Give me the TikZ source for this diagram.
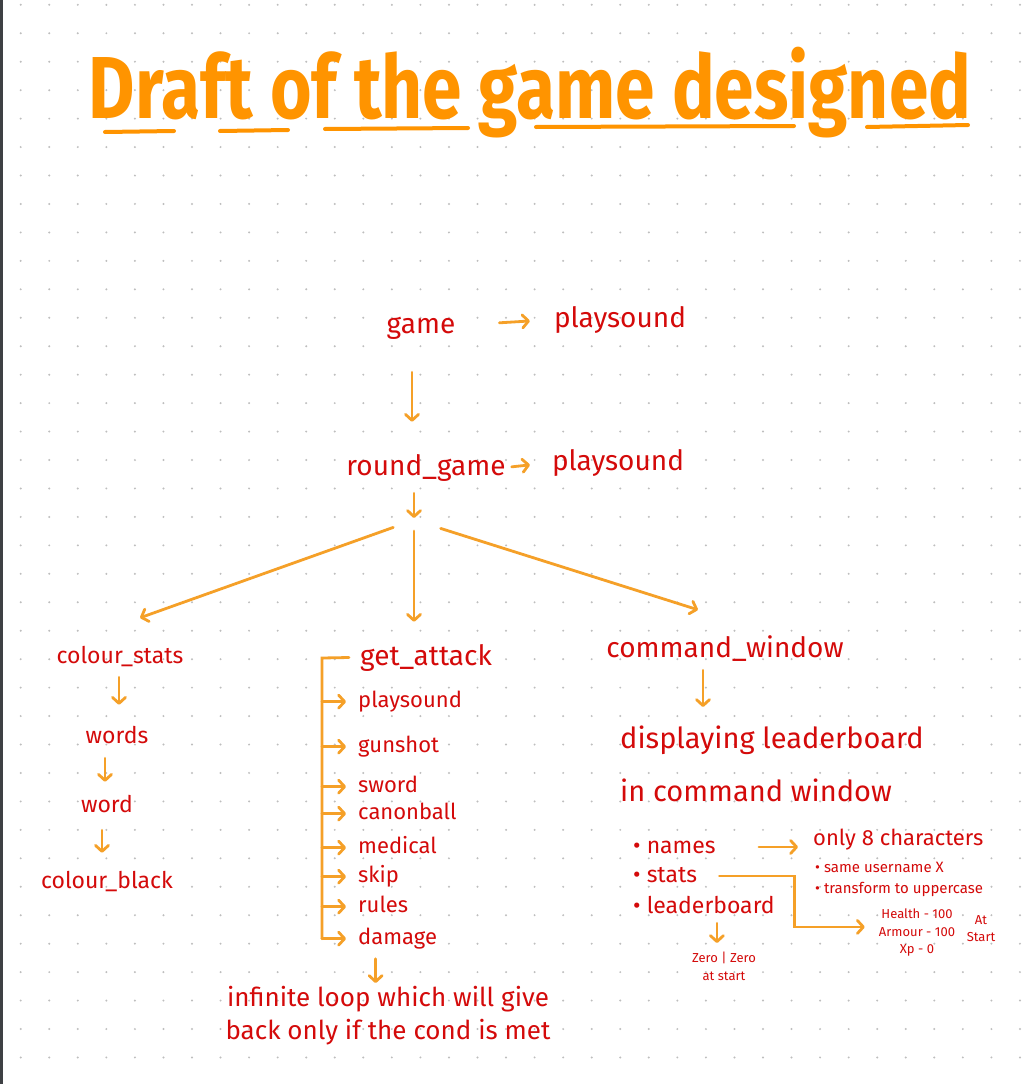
\documentclass[tikz,border=0pt]{standalone}
\usepackage{fontspec}
\setmainfont{Fira Sans}
\newfontfamily\titlefont[FakeStretch=0.81]{Fira Sans}
\usetikzlibrary{arrows.meta,positioning}

\definecolor{ink}{RGB}{212,10,10}
\definecolor{pen}{RGB}{245,160,40}
\definecolor{marker}{RGB}{255,148,0}
\definecolor{dots}{RGB}{190,190,190}
\definecolor{edge}{RGB}{62,64,68}

\begin{document}
\begin{tikzpicture}[%
x=1pt, y=-1pt,
>={Straight Barb[round,length=6pt,width=13pt]},
lbl/.style={text=ink, inner sep=0pt, anchor=base, text height=21pt, text depth=6pt, font=\fontsize{28}{34}\selectfont},
sub/.style={lbl, text height=17pt, text depth=5pt, font=\fontsize{23}{28}\selectfont},
itm/.style={sub, anchor=mid west, font=\fontsize{22}{26}\selectfont},
bul/.style={sub, anchor=base west},
note/.style={text=ink, inner sep=0pt, anchor=base west, font=\fontsize{15}{18}\selectfont},
tiny/.style={text=ink, inner sep=0pt, align=center, anchor=north, font=\fontsize{13}{17.5}\selectfont},
flow/.style={->, draw=pen, line width=2.8pt, line cap=round}
]

% paper
\fill[white] (0,0) rectangle (1033,1084);
\useasboundingbox (0,0) rectangle (1033,1084);
\fill[edge] (0,0) rectangle (2.5,1084);
\foreach \i in {0,...,35} {
  \foreach \j in {0,...,37} {
    \fill[dots] ({20.7+28.55*\i},{4.8+28.45*\j}) circle (1.1pt);
  }
}

% title
\node[text=marker, inner sep=0pt, anchor=base, font=\titlefont\bfseries\fontsize{88}{90}\selectfont] (title) at (530,118) {Draft of the game designed};
\draw[marker, line width=4pt, line cap=round] (105,132) -- (174,131);
\draw[marker, line width=4pt, line cap=round] (220,131) -- (288,130);
\draw[marker, line width=4pt, line cap=round] (325,129) -- (468,128);
\draw[marker, line width=4pt, line cap=round] (536,127) -- (794,126);
\draw[marker, line width=4pt, line cap=round] (867,127) -- (968,125);

% top
\node[lbl] (game) at (421,333) {game};
\node[lbl] (snd1) at (620,327) {playsound};
\node[lbl] (round) at (426,475) {round\_game};
\node[lbl] (snd2) at (618,470) {playsound};
\coordinate (fork) at (414,520);

% left column
\node[sub] (colstats) at (120,663) {colour\_stats};
\node[sub] (words) at (117,743) {words};
\node[sub] (word) at (107,812) {word};
\node[sub] (colblack) at (107,888) {colour\_black};

% middle column
\node[lbl] (getatk) at (426,665) {get\_attack};
\node[itm] (a1) at (358,705) {playsound};
\node[itm] (a2) at (358,750) {gunshot};
\node[itm] (a3) at (358,790) {sword};
\node[itm] (a4) at (358,817) {canonball};
\node[itm] (a5) at (358,851) {medical};
\node[itm] (a6) at (358,880) {skip};
\node[itm] (a7) at (358,910) {rules};
\node[itm] (a8) at (358,942) {damage};
\coordinate (spine) at (322,658);
\node[text=ink, inner sep=0pt, align=center, anchor=north, font=\fontsize{26}{33}\selectfont] (loop) at (388,986) {infinite loop which will give\\back only if the cond is met};

% right column
\node[lbl] (cmdwin) at (725,657) {command\_window};
\node[text=ink, inner sep=0pt, align=left, anchor=north west, font=\fontsize{29}{53}\selectfont] (disp) at (620,726) {displaying leaderboard\\in command window};
\node[bul] (names) at (633,853) {• names};
\node[bul] (stats) at (633,882) {• stats};
\node[bul] (board) at (633,913) {• leaderboard};
\node[note, font=\fontsize{22}{26}\selectfont] (only8) at (813,845) {only 8 characters};
\node[note] (same) at (815,872) {• same username X};
\node[note] (upper) at (815,893) {• transform to uppercase};
\node[tiny] (hstats) at (917,909) {Health - 100\\Armour - 100\\Xp - 0};
\node[tiny] (atstart) at (981,915) {At\\Start};
\node[tiny] (zero) at (724,952) {Zero | Zero\\at start};

% arrows
\draw[flow, shorten <=44pt, shorten >=24pt] (game.east) -- (snd1.west);
\draw[flow, shorten <=33pt, shorten >=32pt] ([xshift=-9pt]game.south) -- ([xshift=-9pt]game.south |- round.north);
\draw[flow, shorten <=6pt, shorten >=22pt] (round.east) -- (snd2.west);
\draw[flow, shorten <=12pt, shorten >=2pt] ([xshift=-12pt]round.south) -- (fork);
\draw[flow, shorten <=22pt] (fork) -- ([xshift=20pt,yshift=28pt]colstats.north);
\draw[flow, shorten <=11pt, shorten >=22pt] (fork) -- (fork |- getatk.north);
\draw[flow, shorten <=28pt] (fork) -- ([xshift=-27pt,yshift=26pt]cmdwin.north);

\draw[flow, shorten <=9pt, shorten >=21pt] ([xshift=-1pt]colstats.south) -- ([xshift=-1pt]colstats.south |- words.north);
\draw[flow, shorten <=10pt, shorten >=13pt] ([xshift=-12pt]words.south) -- ([xshift=-12pt]words.south |- word.north);
\draw[flow, shorten <=13pt, shorten >=18pt] ([xshift=-5pt]word.south) -- ([xshift=-5pt]word.south |- colblack.north);

\draw[flow, -] ([xshift=-11pt]getatk.west) -- (spine) -- (spine |- a8.west);
\draw[flow] (spine |- a1.west) -- ([xshift=-12pt]a1.west);
\draw[flow] (spine |- a2.west) -- ([xshift=-12pt]a2.west);
\draw[flow] (spine |- a3.west) -- ([xshift=-12pt]a3.west);
\draw[flow] (spine |- a4.west) -- ([xshift=-12pt]a4.west);
\draw[flow] (spine |- a5.west) -- ([xshift=-12pt]a5.west);
\draw[flow] (spine |- a6.west) -- ([xshift=-12pt]a6.west);
\draw[flow] (spine |- a7.west) -- ([xshift=-12pt]a7.west);
\draw[flow] (spine |- a8.west) -- ([xshift=-12pt]a8.west);
\draw[flow, shorten <=9pt, shorten >=3pt] ([xshift=-22pt]a8.south) -- ([xshift=-22pt]a8.south |- loop.north);

\draw[flow, shorten <=7pt, shorten >=19pt] ([xshift=-22pt]cmdwin.south) -- ([xshift=-22pt]cmdwin.south |- disp.north);
\draw[flow, shorten <=43pt, shorten >=15pt] (names.east) -- (names.east -| only8.west);
\draw[flow, shorten >=14pt] ([xshift=22pt]stats.east) -| ([xshift=-84pt,yshift=6pt]hstats.west) -- ([yshift=6pt]hstats.west);
\draw[flow, shorten <=5pt, shorten >=9pt] ([xshift=13pt]board.south) -- ([xshift=13pt]board.south |- zero.north);

\end{tikzpicture}
\end{document}
